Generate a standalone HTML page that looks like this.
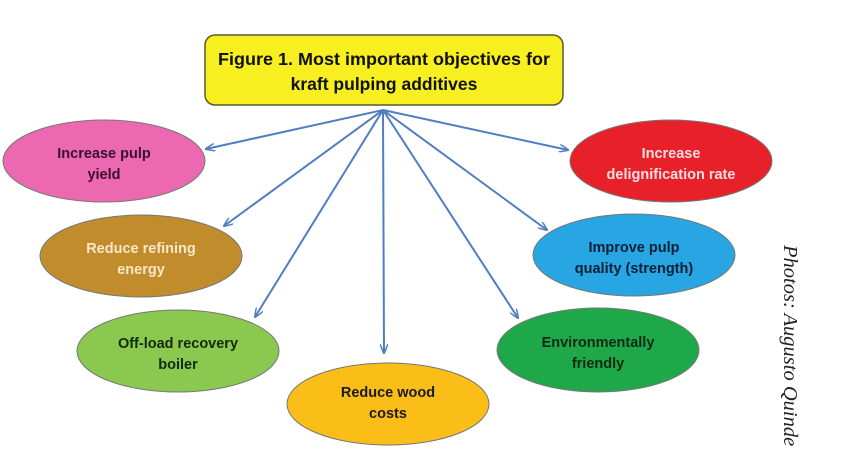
<!DOCTYPE html>
<html><head><style>
html,body{margin:0;padding:0;background:#fff;}
body{width:843px;height:463px;overflow:hidden;position:relative;}
svg text{font-family:"Liberation Sans",sans-serif;font-weight:bold;}
</style></head><body>
<svg width="843" height="463" viewBox="0 0 843 463" xmlns="http://www.w3.org/2000/svg">
<defs>
<marker id="a" markerWidth="10" markerHeight="8" refX="9" refY="4" orient="auto" markerUnits="userSpaceOnUse">
<path d="M0,0 L10,4 L0,8" fill="none" stroke="#4f7fc0" stroke-width="1.5"/>
</marker>
</defs>
<rect x="205" y="35" width="358" height="70" rx="10" fill="#f7ef1f" stroke="#5a5a2a" stroke-width="1.5"/>
<text x="384" y="65" font-size="17.5" text-anchor="middle" fill="#111" textLength="332" lengthAdjust="spacingAndGlyphs">Figure 1. Most important  objectives for</text>
<text x="384" y="90" font-size="17.5" text-anchor="middle" fill="#111">kraft pulping additives</text>
<g stroke="#4f7fc0" stroke-width="2" marker-end="url(#a)">
<line x1="383" y1="110" x2="206" y2="149"/>
<line x1="383" y1="110" x2="224" y2="226"/>
<line x1="383" y1="110" x2="255" y2="317"/>
<line x1="383" y1="110" x2="384" y2="353"/>
<line x1="383" y1="110" x2="568" y2="150"/>
<line x1="383" y1="110" x2="547" y2="230"/>
<line x1="383" y1="110" x2="518" y2="318"/>
</g>
<g stroke="#777" stroke-width="1">
<ellipse cx="104" cy="161" rx="101" ry="41" fill="#ec68b0"/>
<ellipse cx="141" cy="256" rx="101" ry="41" fill="#c18c2c"/>
<ellipse cx="178" cy="351" rx="101" ry="41" fill="#8bc84f"/>
<ellipse cx="388" cy="404" rx="101" ry="41" fill="#fbbd17"/>
<ellipse cx="671" cy="161" rx="101" ry="41" fill="#e8202a"/>
<ellipse cx="634" cy="255" rx="101" ry="41" fill="#27a6e3"/>
<ellipse cx="598" cy="350" rx="101" ry="42" fill="#1ea84a"/>
</g>
<g font-size="14.5" text-anchor="middle">
<text x="104" y="158" fill="#3a1030">Increase pulp</text>
<text x="104" y="179" fill="#3a1030">yield</text>
<text x="141" y="253" fill="#fbe8c8">Reduce refining</text>
<text x="141" y="274" fill="#fbe8c8">energy</text>
<text x="178" y="348" fill="#132a0a">Off-load recovery</text>
<text x="178" y="369" fill="#132a0a">boiler</text>
<text x="388" y="397" fill="#1a1a1a">Reduce wood</text>
<text x="388" y="418" fill="#1a1a1a">costs</text>
<text x="671" y="158" fill="#fbe0e0">Increase</text>
<text x="671" y="179" fill="#fbe0e0">delignification rate</text>
<text x="634" y="252" fill="#0c1f35">Improve pulp</text>
<text x="634" y="273" fill="#0c1f35">quality (strength)</text>
<text x="598" y="347" fill="#0a2a12">Environmentally</text>
<text x="598" y="368" fill="#0a2a12">friendly</text>
</g>
<text transform="translate(784,245) rotate(90)" x="0" y="0" font-size="20.5" fill="#222" style="font-family:'Liberation Serif',serif;font-style:italic;font-weight:normal">Photos: Augusto Quinde</text>
</svg>
</body></html>
